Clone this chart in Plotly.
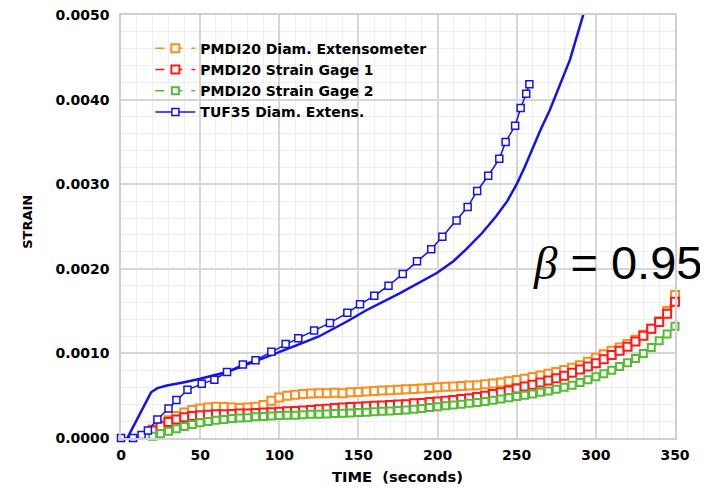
import plotly.graph_objects as go

# ---------------- data ----------------
pm_time = [20, 25, 30, 35, 40, 45, 50, 55, 60, 65, 70, 75, 80, 85, 90, 95, 100,
           105, 110, 115, 120, 125, 130, 135, 140, 145, 150, 155, 160, 165, 170,
           175, 180, 185, 190, 195, 200, 205, 210, 215, 220, 225, 230, 235, 240,
           245, 250, 255, 260, 265, 270, 275, 280, 285, 290, 295, 300, 305, 310,
           315, 320, 325, 330, 335, 340, 345, 350]

pm_diam = [0.10, 0.15, 0.21, 0.26, 0.30, 0.33, 0.35, 0.36, 0.37, 0.365, 0.36,
           0.355, 0.36, 0.37, 0.39, 0.44, 0.48, 0.50, 0.51, 0.52, 0.525, 0.53,
           0.53, 0.535, 0.53, 0.54, 0.545, 0.55, 0.555, 0.56, 0.565, 0.57, 0.575,
           0.58, 0.585, 0.59, 0.60, 0.605, 0.61, 0.615, 0.62, 0.625, 0.635, 0.645,
           0.655, 0.67, 0.685, 0.70, 0.72, 0.74, 0.76, 0.78, 0.805, 0.83, 0.86,
           0.90, 0.95, 0.99, 1.03, 1.07, 1.11, 1.16, 1.22, 1.29, 1.38, 1.50, 1.69]

pm_sg1 = [0.09, 0.14, 0.19, 0.22, 0.245, 0.26, 0.27, 0.275, 0.28, 0.28, 0.285,
          0.29, 0.29, 0.295, 0.30, 0.305, 0.31, 0.315, 0.32, 0.325, 0.33, 0.34,
          0.345, 0.355, 0.36, 0.365, 0.37, 0.375, 0.38, 0.385, 0.39, 0.395, 0.40,
          0.41, 0.415, 0.425, 0.43, 0.44, 0.45, 0.46, 0.47, 0.485, 0.50, 0.52,
          0.54, 0.56, 0.585, 0.61, 0.63, 0.655, 0.68, 0.705, 0.735, 0.77, 0.81,
          0.845, 0.885, 0.93, 0.98, 1.03, 1.08, 1.14, 1.21, 1.29, 1.37, 1.47, 1.61]

pm_sg2 = [0.02, 0.05, 0.08, 0.11, 0.135, 0.16, 0.18, 0.195, 0.21, 0.22, 0.23,
          0.235, 0.24, 0.25, 0.255, 0.26, 0.265, 0.27, 0.27, 0.275, 0.28, 0.28,
          0.285, 0.29, 0.292, 0.295, 0.30, 0.305, 0.31, 0.315, 0.32, 0.325, 0.33,
          0.34, 0.35, 0.36, 0.37, 0.38, 0.39, 0.40, 0.41, 0.42, 0.43, 0.445, 0.46,
          0.475, 0.49, 0.505, 0.52, 0.54, 0.555, 0.575, 0.60, 0.625, 0.655, 0.69,
          0.725, 0.76, 0.80, 0.845, 0.89, 0.94, 1.00, 1.07, 1.15, 1.23, 1.32]

tuf_time = [0, 7.6, 13, 17, 23, 30, 35, 42, 51, 59, 67, 77, 85, 95, 104, 112, 122,
            132, 143, 151, 160, 169, 178, 187, 196, 203, 212, 219, 225, 232, 239,
            243, 249, 252.5, 256, 258]
tuf_strain = [0.0, 0.0, 0.035, 0.09, 0.22, 0.35, 0.45, 0.57, 0.64, 0.69, 0.78,
              0.87, 0.92, 1.02, 1.11, 1.18, 1.27, 1.36, 1.48, 1.58, 1.68, 1.80,
              1.94, 2.09, 2.23, 2.38, 2.57, 2.73, 2.92, 3.10, 3.30, 3.50, 3.69,
              3.90, 4.07, 4.18]

tuf2_time = [4, 12, 19, 23, 29, 40, 50, 67, 80, 95, 110, 125, 143, 155, 176,
             199.5, 210, 218, 228, 237, 244, 250, 255, 260, 265, 271, 277, 283.6,
             292, 296]
tuf2_strain = [0.0, 0.29, 0.54, 0.59, 0.62, 0.66, 0.70, 0.78, 0.87, 0.98, 1.09,
               1.20, 1.38, 1.51, 1.71, 1.95, 2.09, 2.23, 2.42, 2.62, 2.80, 3.00,
               3.20, 3.42, 3.64, 3.88, 4.15, 4.47, 5.0, 5.3]

x_ticks = [0, 50, 100, 150, 200, 250, 300, 350]
y_ticks = [0.0, 0.001, 0.002, 0.003, 0.004, 0.005]

SCALE = 1e-3

ORANGE = "#ff8c1a"
RED = "#ff1a1a"
GREEN = "#55bb33"
BLUE = "#1212ee"
FONT = "DejaVu Sans, Liberation Sans, sans-serif"

fig = go.Figure()


def pm_trace(y, name, color, size):
    return go.Scatter(
        x=pm_time, y=[v * SCALE for v in y], name=name, mode="lines+markers",
        line=dict(color=color, width=1.5, dash="dash"),
        marker=dict(symbol="square", size=size, color="white",
                    line=dict(color=color, width=2)),
        cliponaxis=False)


fig.add_trace(pm_trace(pm_diam, "PMDI20 Diam. Extensometer", ORANGE, 8))
fig.add_trace(pm_trace(pm_sg1, "PMDI20 Strain Gage 1", RED, 8))
fig.add_trace(pm_trace(pm_sg2, "PMDI20 Strain Gage 2", GREEN, 7))

fig.add_trace(go.Scatter(
    x=tuf2_time, y=[v * SCALE for v in tuf2_strain], mode="lines",
    line=dict(color=BLUE, width=2.5), showlegend=False, hoverinfo="skip"))

fig.add_trace(go.Scatter(
    x=tuf_time, y=[v * SCALE for v in tuf_strain], name="TUF35 Diam. Extens.",
    mode="lines+markers", line=dict(color=BLUE, width=1.5),
    marker=dict(symbol="square", size=7, color="white",
                line=dict(color=BLUE, width=1.5)),
    cliponaxis=False))

# page has an 8px body margin: figure is 700x480 so it fills the 708x488 view
fig.update_layout(
    width=700, height=480,
    margin=dict(l=113, r=33, t=7, b=50),
    paper_bgcolor="white", plot_bgcolor="white",
    font=dict(family=FONT, color="black"),
    showlegend=True,
    legend=dict(x=0.053, y=0.958, xanchor="left", yanchor="top",
                bgcolor="rgba(0,0,0,0)",
                font=dict(size=14, family=FONT, weight="bold"),
                itemwidth=40, tracegroupgap=0),
    annotations=[
        dict(text="<span style='font-family:Liberation Serif'><i>β</i></span> = 0.95",
             xref="paper", yref="paper", x=0.74, y=0.416,
             xanchor="left", yanchor="middle", showarrow=False,
             font=dict(size=47, family="Liberation Sans, Arial, sans-serif",
                       color="black")),
        dict(text="TIME\u00a0\u00a0(seconds)", xref="paper", yref="paper",
             x=0.499, y=0, yshift=-38, xanchor="center", yanchor="middle",
             showarrow=False,
             font=dict(size=14.7, family=FONT, weight="bold", color="black")),
        dict(text="STRAIN", xref="paper", yref="paper", x=0, y=0.511,
             xshift=-93, xanchor="center", yanchor="middle", textangle=-90,
             showarrow=False,
             font=dict(size=13, family=FONT, weight="bold", color="black")),
    ],
)

fig.update_xaxes(
    range=[0, 350], tickvals=x_ticks, ticktext=[str(v) for v in x_ticks],
    showgrid=True, gridcolor="#d6d6d6", gridwidth=1.5,
    minor=dict(dtick=10, showgrid=True, gridcolor="#eeeeee", gridwidth=1),
    showline=True, linecolor="#d0d0d0", linewidth=1.5, mirror=True,
    zeroline=False, ticks="outside", ticklen=3, tickcolor="rgba(0,0,0,0)",
    tickfont=dict(size=14, family=FONT, weight="bold"), automargin=False,
    ticklabeloverflow="allow")

fig.update_yaxes(
    range=[0, 0.005], tickvals=y_ticks, ticktext=[f"{v:.4f}" for v in y_ticks],
    showgrid=True, gridcolor="#d6d6d6", gridwidth=1.5,
    minor=dict(dtick=0.0002, showgrid=True, gridcolor="#eeeeee", gridwidth=1),
    showline=True, linecolor="#d0d0d0", linewidth=1.5, mirror=True,
    zeroline=False, ticks="outside", ticklen=7, tickcolor="rgba(0,0,0,0)",
    tickfont=dict(size=14, family=FONT, weight="bold"), automargin=False,
    ticklabeloverflow="allow")

fig.write_html("out.html")
